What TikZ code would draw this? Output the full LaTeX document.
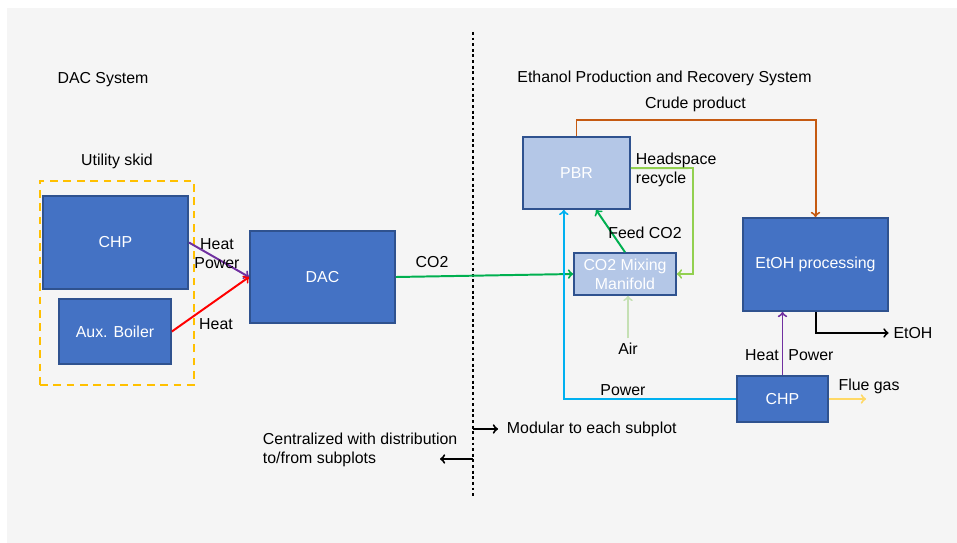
\documentclass[tikz,border=0pt]{standalone}
\usepackage{fontspec}
\setmainfont{Liberation Sans}
\usepackage{tikz}
\usetikzlibrary{arrows, positioning}
\definecolor{bg}{HTML}{F5F5F5}
\definecolor{boxblue}{HTML}{4472C4}
\definecolor{boxedge}{HTML}{2F528F}
\definecolor{lightblue}{HTML}{B4C7E7}
\definecolor{skidorange}{HTML}{FFC000}
\definecolor{heatpurple}{HTML}{7030A0}
\definecolor{feedgreen}{HTML}{00B050}
\definecolor{recyclegreen}{HTML}{92D050}
\definecolor{airgreen}{HTML}{C5E0B4}
\definecolor{powerblue}{HTML}{00B0F0}
\definecolor{crudeorange}{HTML}{C55A11}
\definecolor{fluegold}{HTML}{FFD966}
\tikzstyle{unit} = [rectangle, draw=boxedge, fill=boxblue, text=white, line width=1.2pt, align=center, inner sep=0]
\tikzstyle{lightunit} = [unit, fill=lightblue]
\tikzstyle{flow} = [->, line width=1.4pt]

\begin{document}
\begin{tikzpicture}[x=0.025cm, y=-0.025cm, font=\fontsize{11.3}{13.5}\selectfont]
				\useasboundingbox (0,0) rectangle (957,543);
				\fill[bg] (7,8) rectangle (957,543);

				% left side: DAC system
				\node (DacTitle) at (103, 80) {DAC System};
				\node (SkidTitle) at (117, 161) {Utility skid};
				\node (Skid) [draw=skidorange, line width=1.5pt, dash pattern=on 5.5pt off 4pt,
				              minimum width=3.85cm, minimum height=5.1cm] at (117, 283) {};
				\node (Chp) [unit, minimum width=3.63cm, minimum height=2.33cm] at (115.5, 242.5) {CHP};
				\node (Boiler) [unit, minimum width=2.8cm, minimum height=1.63cm] at (115, 331.5) {Aux. Boiler};
				\node (Dac) [unit, minimum width=3.63cm, minimum height=2.3cm] at (322.5, 277) {DAC};

				\draw[flow, heatpurple] (Chp.east) -- (Dac.west);
				\node (ChpLabel) [align=center] at (217, 254) {Heat\\Power};
				\draw[flow, red] (Boiler.east) -- (Dac.west);
				\node (BoilerLabel) at (216, 324) {Heat};

				% divider
				\coordinate (DivTop) at (473, 32);
				\coordinate (DivBottom) at (473, 496);
				\draw[line width=2pt, dash pattern=on 2pt off 2pt] (DivTop) -- (DivBottom);

				% right side: ethanol system
				\node (EtohTitle) at (664.5, 78) {Ethanol Production and Recovery System};
				\node (Pbr) [lightunit, minimum width=2.68cm, minimum height=1.8cm] at (576.5, 173) {PBR};
				\node (Manifold) [lightunit, minimum width=2.55cm, minimum height=1.05cm] at (625, 274) {CO2 Mixing\\Manifold};
				\node (Etoh) [unit, minimum width=3.63cm, minimum height=2.33cm] at (815.5, 264.5) {EtOH processing};
				\node (ChpSub) [unit, minimum width=2.28cm, minimum height=1.15cm] at (782.5, 399) {CHP};

				\draw[flow, feedgreen] (Dac.east) -- (Manifold.west);
				\node (Co2Label) at (432, 262) {CO2};

				\draw[flow, feedgreen] (Manifold.north) -- (Pbr.-62);
				\node (FeedLabel) at (645, 233) {Feed CO2};

				\coordinate (RecycleCorner) at (693, 168);
				\draw[flow, recyclegreen] (Pbr.5) -- (RecycleCorner) |- (Manifold.east);
				\node (RecycleLabel) [align=left, anchor=west] at (631, 170) {Headspace\\recycle};

				\node (Air) at (628, 349) {Air};
				\draw[flow, airgreen] (Air.north) -- (Air.north |- Manifold.south);

				\coordinate (CrudeTop) at (700, 120);
				\draw[flow, crudeorange] (Pbr.north) |- (CrudeTop) -| (Etoh.north);
				\node (CrudeLabel) at (695.5, 104) {Crude product};

				\draw[flow, powerblue] (ChpSub.west) -| (Pbr.-109);
				\node (PowerLabel) at (623, 390) {Power};

				\draw[flow, heatpurple] (ChpSub.north) -- (ChpSub.north |- Etoh.south);
				\node (HeatSub) at (762, 355) {Heat};
				\node (PowerSub) at (811, 355) {Power};

				\node (EtohOut) at (913, 333) {EtOH};
				\draw[flow, black] (Etoh.south) |- (EtohOut.west);

				\coordinate (FlueEnd) at (866, 399);
				\draw[flow, fluegold] (ChpSub.east) -- (FlueEnd);
				\node (FlueLabel) at (869, 386) {Flue gas};

				% legend
				\coordinate (ModStart) at (473, 429);
				\coordinate (ModEnd) at (498, 429);
				\draw[flow, black] (ModStart) -- (ModEnd);
				\node (Modular) [anchor=west] at (502, 429) {Modular to each subplot};

				\coordinate (CenStart) at (473, 459);
				\coordinate (CenEnd) at (440, 459);
				\draw[flow, black] (CenStart) -- (CenEnd);
				\node (Central) [align=left, anchor=west] at (258, 450) {Centralized with distribution\\to/from subplots};
			\end{tikzpicture}
\end{document}
